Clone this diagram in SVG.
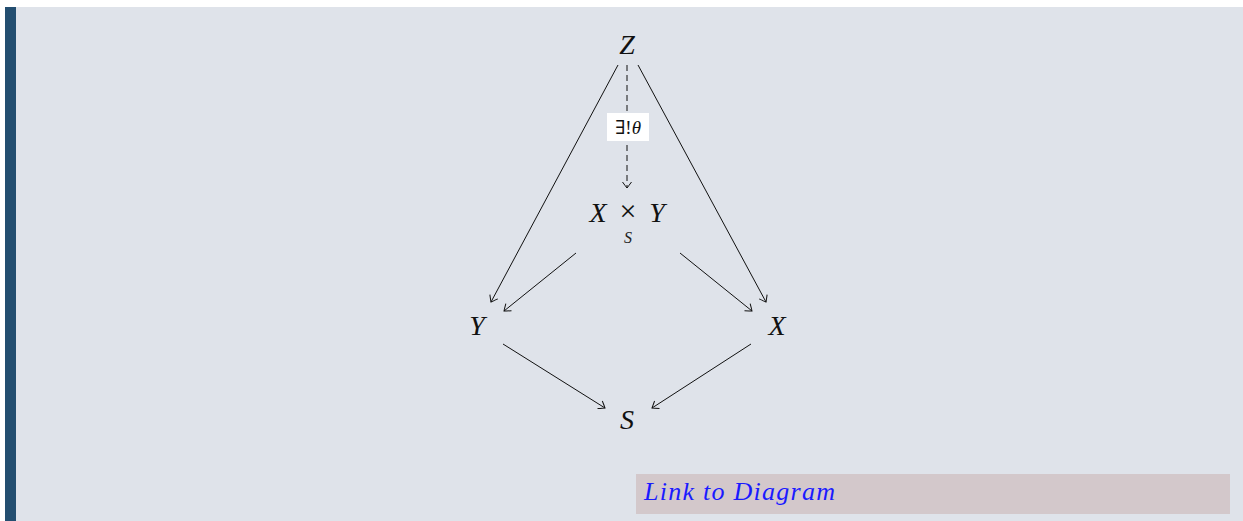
<svg xmlns="http://www.w3.org/2000/svg" width="1243" height="521" viewBox="0 0 1243 521">
<style>
.math{font-family:"Liberation Serif","DejaVu Serif",serif;font-style:italic;font-size:28px;fill:#111;}
.sub{font-family:"Liberation Serif","DejaVu Serif",serif;font-style:italic;font-size:16px;fill:#222;}
.op{font-family:"Liberation Serif","DejaVu Serif",serif;font-size:30px;fill:#111;}
.edge{stroke:#111;stroke-width:1;fill:none;marker-end:url(#to);}
.dash{stroke-dasharray:6 4;}
.lbl{font-family:"Liberation Serif","DejaVu Serif",serif;font-size:19px;fill:#111;}
.link{font-family:"Liberation Serif","DejaVu Serif",serif;font-style:italic;font-size:26px;fill:#1a1aff;}
</style>
<defs>
<marker id="to" viewBox="-8 -6 10 12" refX="0" refY="0" markerWidth="10" markerHeight="12" markerUnits="userSpaceOnUse" orient="auto">
<path d="M-6,-4.5 Q-1.5,-1.2 0,0 Q-1.5,1.2 -6,4.5" stroke="#111" stroke-width="1" fill="none"/>
</marker>
</defs>
<rect x="0" y="0" width="1243" height="521" fill="#ffffff"/>
<rect x="5" y="7" width="1238" height="514" fill="#dfe3ea"/>
<rect x="5" y="7" width="11" height="514" fill="#234e70"/>
<g id="connectors">
<line class="edge" x1="618" y1="65" x2="491" y2="302"/>
<line class="edge" x1="638" y1="65" x2="766" y2="302"/>
<line class="edge dash" x1="627" y1="65" x2="627" y2="188"/>
<line class="edge" x1="576" y1="253" x2="504" y2="311"/>
<line class="edge" x1="680" y1="253" x2="752" y2="311"/>
<line class="edge" x1="503" y1="344" x2="605" y2="408"/>
<line class="edge" x1="751" y1="344" x2="652" y2="408"/>
<g id="label-theta">
<rect x="607" y="113" width="42" height="28" fill="#ffffff"/>
<text class="lbl" x="628" y="134" text-anchor="middle"><tspan font-style="normal">∃!</tspan><tspan font-style="italic">θ</tspan></text>
</g>
</g>
<g id="node-Z"><text class="math" x="627" y="54" text-anchor="middle">Z</text></g>
<g id="node-P">
<text class="math" x="598" y="222" text-anchor="middle">X</text>
<text class="op" x="628" y="221" text-anchor="middle">×</text>
<text class="math" x="657" y="222" text-anchor="middle">Y</text>
<text class="sub" x="628" y="243" text-anchor="middle">S</text>
</g>
<g id="node-Y"><text class="math" x="477" y="335" text-anchor="middle">Y</text></g>
<g id="node-X"><text class="math" x="777" y="335" text-anchor="middle">X</text></g>
<g id="node-S"><text class="math" x="627" y="429" text-anchor="middle">S</text></g>
<g id="link">
<rect x="636" y="474" width="594" height="40" fill="#d3c8cb"/>
<text class="link" x="644" y="500" textLength="191" lengthAdjust="spacing">Link to Diagram</text>
</g>
</svg>
